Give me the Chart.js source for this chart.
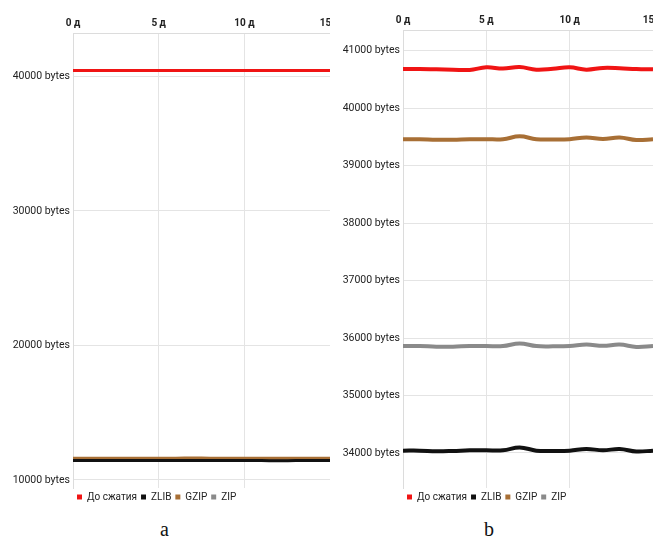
<!DOCTYPE html>
<html lang="ru">
<head>
    <meta charset="UTF-8">
    <title>Размер файлов</title>
    <script src="https://cdn.jsdelivr.net/npm/chart.js"></script>
    <style>
        body { margin: 0; background: #fff; width: 653px; height: 549px; position: relative; overflow: hidden; }
        .panel { position: absolute; top: 0; height: 512px; overflow: hidden; }
        #panelA { left: 0; width: 330px; }
        #panelB { left: 330px; width: 323px; }
        .caption { position: absolute; top: 518px; font-family: "Liberation Serif", serif; font-size: 20px; color: #111; }
    </style>
</head>
<body>
    <div class="panel" id="panelA"><canvas id="chartA" width="350" height="512"></canvas></div>
    <div class="panel" id="panelB"><canvas id="chartB" width="343" height="512"></canvas></div>
    <div class="caption" style="left:160px">a</div>
    <div class="caption" style="left:484px">b</div>

    <script>
        // days on the x axis
        const days = [0, 1, 2, 3, 4, 5, 6, 7, 8, 9, 10, 11, 12, 13, 14, 15];
        const seriesNames = ['До сжатия', 'ZLIB', 'GZIP', 'ZIP'];
        const seriesColors = ['#f01414', '#111111', '#a86f35', '#8a8a8a'];

        // chart a (bytes)
        const aRaw  = [40450, 40450, 40450, 40450, 40450, 40450, 40450, 40450, 40450, 40450, 40445, 40445, 40450, 40450, 40450, 40450];
        const aZlib = [11440, 11440, 11440, 11440, 11440, 11440, 11440, 11440, 11440, 11440, 11440, 11440, 11420, 11440, 11440, 11440];
        const aGzip = [11620, 11620, 11620, 11620, 11620, 11620, 11620, 11630, 11620, 11620, 11620, 11620, 11620, 11620, 11620, 11620];
        const aZip  = [11470, 11470, 11470, 11470, 11470, 11470, 11470, 11480, 11470, 11470, 11470, 11470, 11450, 11470, 11470, 11470];
        const aTicks = [10000, 20000, 30000, 40000];

        // chart b (bytes)
        const bRaw  = [40680, 40680, 40675, 40670, 40665, 40710, 40690, 40715, 40670, 40685, 40710, 40670, 40700, 40695, 40680, 40675];
        const bZlib = [34040, 34040, 34030, 34035, 34045, 34045, 34045, 34095, 34040, 34035, 34040, 34070, 34045, 34070, 34025, 34040];
        const bGzip = [39460, 39460, 39450, 39450, 39460, 39460, 39460, 39510, 39460, 39455, 39460, 39490, 39465, 39490, 39445, 39460];
        const bZip  = [35860, 35860, 35850, 35850, 35860, 35860, 35860, 35905, 35860, 35855, 35860, 35885, 35865, 35885, 35845, 35860];
        const bTicks = [34000, 35000, 36000, 37000, 38000, 39000, 40000, 41000];

        function makeChart(id, values, yMin, yMax, ticksList, lineWidth, topPad) {
            const datasets = values.map((vals, i) => ({
                label: seriesNames[i],
                data: days.map((d, j) => ({ x: d, y: vals[j] })),
                borderColor: seriesColors[i],
                backgroundColor: seriesColors[i],
                borderWidth: lineWidth[i],
                pointRadius: 0,
                tension: 0.4,
                fill: false
            }));
            return new Chart(document.getElementById(id), {
                type: 'line',
                data: { datasets: datasets },
                options: {
                    responsive: false,
                    animation: false,
                    layout: { padding: { top: topPad, right: 20, left: 0, bottom: 0 } },
                    plugins: {
                        tooltip: { enabled: false },
                        legend: {
                            position: 'bottom',
                            align: 'start',
                            fullSize: false,
                            labels: {
                                boxWidth: 5,
                                boxHeight: 5,
                                padding: 4,
                                color: '#222',
                                font: { family: 'Roboto', size: 10 },
                                generateLabels: (chart) => {
                                    const items = Chart.defaults.plugins.legend.labels.generateLabels(chart);
                                    items.forEach(it => { it.lineWidth = 0; });
                                    return items;
                                }
                            }
                        }
                    },
                    scales: {
                        x: {
                            type: 'linear',
                            position: 'top',
                            min: 0,
                            max: 15,
                            ticks: {
                                stepSize: 5,
                                padding: 4,
                                color: '#222',
                                font: { family: 'Roboto', size: 10, weight: 'bold' },
                                callback: (v) => v + ' д'
                            },
                            grid: { color: '#e4e4e4', drawTicks: false },
                            border: { color: '#dcdcdc' }
                        },
                        y: {
                            min: yMin,
                            max: yMax,
                            afterBuildTicks: (scale) => {
                                scale.ticks = ticksList.map(v => ({ value: v }));
                            },
                            afterFit: (scale) => { scale.width = 73; },
                            ticks: {
                                padding: 3,
                                color: '#222',
                                font: { family: 'Roboto', size: 10.5 },
                                callback: (v) => v + ' bytes'
                            },
                            grid: { color: '#e4e4e4', drawTicks: false },
                            border: { color: '#dcdcdc' }
                        }
                    }
                }
            });
        }

        makeChart('chartA', [aRaw, aZlib, aGzip, aZip], 9400, 43230, aTicks, [3, 3, 3, 3], 13);
        makeChart('chartB', [bRaw, bZlib, bGzip, bZip], 33390, 41360, bTicks, [4, 4, 4, 4], 10);
    </script>
</body>
</html>
